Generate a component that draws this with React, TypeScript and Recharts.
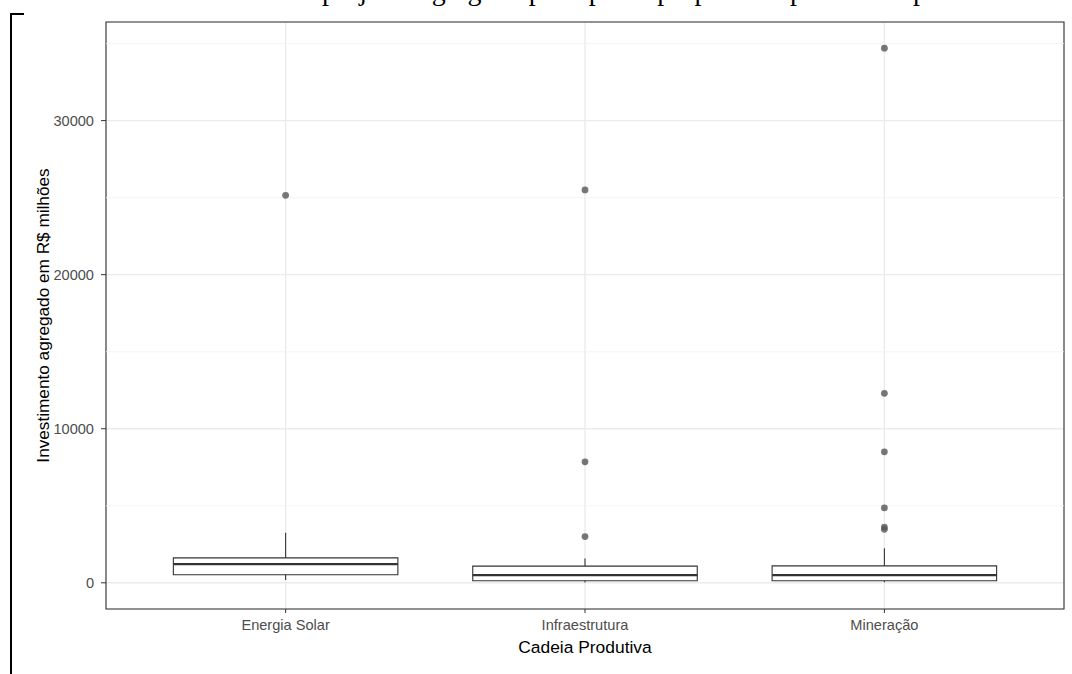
import {
  ComposedChart,
  CartesianGrid,
  XAxis,
  YAxis,
  Scatter,
  ReferenceArea,
  ReferenceLine,
} from 'recharts';

// Boxplot summary per cadeia produtiva (R$ milhões)
const categorias = ['Energia Solar', 'Infraestrutura', 'Mineração'];
const minimos = [175, 20, 30];
const quartil1 = [520, 130, 130];
const medianas = [1215, 500, 500];
const quartil3 = [1620, 1085, 1100];
const maximos = [3250, 1585, 2235];

const outliersEnergia = [25150];
const outliersInfra = [3000, 7850, 25500];
const outliersMineracao = [3470, 3620, 4870, 8500, 12300, 34700];

const yTicks = [0, 10000, 20000, 30000];
const yMinor = [5000, 15000, 25000, 35000];
const yDomain: [number, number] = [-1700, 36400];
const xDomain: [number, number] = [0.4, 3.6];
const BOX_HALF = 0.375;

const outlierData = [
  ...outliersEnergia.map((y) => ({ x: 1, y })),
  ...outliersInfra.map((y) => ({ x: 2, y })),
  ...outliersMineracao.map((y) => ({ x: 3, y })),
];

const FONT = "'Liberation Sans', Arial, sans-serif";
const TITLE = 'Valor dos projetos agregado por tipo de proponente por cadeia produtiva';

export default function App() {
  return (
    <div style={{ position: 'absolute', left: 0, top: 0, width: 1072, height: 674, overflow: 'hidden', background: '#fff' }}>
      <svg width={1072} height={674} style={{ position: 'absolute', left: 0, top: 0 }}>
        <text x={322} y={0} fontFamily="'Liberation Serif', serif" fontSize={28} fill="#000">
          {TITLE.slice(10)}
        </text>
        <text x={316} y={0} textAnchor="end" fontFamily="'Liberation Serif', serif" fontSize={28} fill="#000">
          {TITLE.slice(0, 9)}
        </text>
        <polyline points="24,14 11,14 11,674" fill="none" stroke="#000" strokeWidth={2} />
      </svg>
      <div style={{ position: 'absolute', left: 0, top: 0 }}>
        <ComposedChart width={1072} height={674} margin={{ top: 22, right: 8, bottom: 0, left: 0 }}>
          <CartesianGrid stroke="#EBEBEB" strokeWidth={1.4} />
          <XAxis
            type="number"
            dataKey="x"
            domain={xDomain}
            allowDataOverflow
            ticks={[1, 2, 3]}
            tickFormatter={(v: number) => categorias[v - 1]}
            tick={{ fontSize: 14.6, fill: '#4D4D4D', fontFamily: FONT }}
            tickSize={4}
            tickMargin={7}
            tickLine={{ stroke: '#333' }}
            axisLine={false}
            height={65}
            label={({ viewBox }: any) => (
              <text
                x={viewBox.x + viewBox.width / 2}
                y={viewBox.y + 44}
                textAnchor="middle"
                fontSize={17.4}
                fontFamily={FONT}
                fill="#000"
              >
                Cadeia Produtiva
              </text>
            )}
          />
          <YAxis
            type="number"
            dataKey="y"
            domain={yDomain}
            allowDataOverflow
            ticks={yTicks}
            tick={{ fontSize: 14.6, fill: '#4D4D4D', fontFamily: FONT }}
            tickSize={5}
            tickMargin={7}
            tickLine={{ stroke: '#333' }}
            axisLine={false}
            width={106}
            label={({ viewBox }: any) => {
              const cx = 43;
              const cy = viewBox.y + viewBox.height / 2;
              return (
                <text
                  x={cx}
                  y={cy}
                  transform={`rotate(-90, ${cx}, ${cy})`}
                  textAnchor="middle"
                  dominantBaseline="central"
                  fontSize={17.2}
                  fontFamily={FONT}
                  fill="#000"
                >
                  Investimento agregado em R$ milhões
                </text>
              );
            }}
          />
          {yMinor.map((v) => (
            <ReferenceLine key={`minor-${v}`} y={v} stroke="#F2F2F2" strokeWidth={0.8} />
          ))}
          {categorias.map((c, i) => {
            const x = i + 1;
            return [
              <ReferenceLine
                key={`wlo-${c}`}
                segment={[{ x, y: minimos[i] }, { x, y: quartil1[i] }]}
                stroke="#333"
                strokeWidth={1.1}
              />,
              <ReferenceLine
                key={`whi-${c}`}
                segment={[{ x, y: quartil3[i] }, { x, y: maximos[i] }]}
                stroke="#333"
                strokeWidth={1.1}
              />,
              <ReferenceArea
                key={`box-${c}`}
                x1={x - BOX_HALF}
                x2={x + BOX_HALF}
                y1={quartil1[i]}
                y2={quartil3[i]}
                fill="#fff"
                fillOpacity={1}
                stroke="#333"
                strokeWidth={1.1}
              />,
              <ReferenceLine
                key={`med-${c}`}
                segment={[{ x: x - BOX_HALF, y: medianas[i] }, { x: x + BOX_HALF, y: medianas[i] }]}
                stroke="#333"
                strokeWidth={2.2}
              />,
            ];
          })}
          <Scatter
            data={outlierData}
            dataKey="y"
            isAnimationActive={false}
            shape={(p: any) => <circle cx={p.cx} cy={p.cy} r={3.4} fill="#555" fillOpacity={0.8} />}
          />
          {/* panel border */}
          <ReferenceArea
            x1={xDomain[0]}
            x2={xDomain[1]}
            y1={yDomain[0]}
            y2={yDomain[1]}
            fill="none"
            stroke="#333"
            strokeWidth={1.1}
            ifOverflow="visible"
          />
        </ComposedChart>
      </div>
    </div>
  );
}
